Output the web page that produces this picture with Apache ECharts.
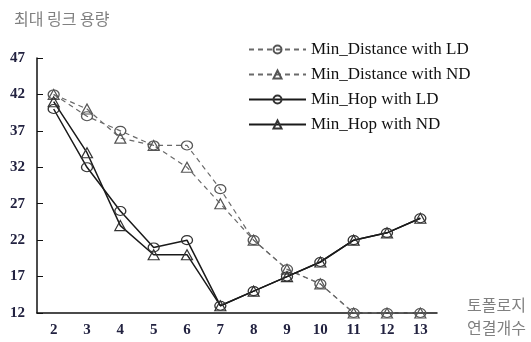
<!DOCTYPE html>
<html>
<head>
<meta charset="utf-8">
<script src="https://cdn.jsdelivr.net/npm/echarts@6/dist/echarts.min.js"></script>
<style>
  html, body { margin: 0; padding: 0; background: #fff; }
  #chart { width: 531px; height: 342px; }
</style>
</head>
<body>
<div id="chart"></div>
<script>
const categories = ["2", "3", "4", "5", "6", "7", "8", "9", "10", "11", "12", "13"];
const minDistanceLD = [42, 39, 37, 35, 35, 29, 22, 18, 16, 12, 12, 12];
const minDistanceND = [42, 40, 36, 35, 32, 27, 22, 18, 16, 12, 12, 12];
const minHopLD = [40, 32, 26, 21, 22, 13, 15, 17, 19, 22, 23, 25];
const minHopND = [41, 34, 24, 20, 20, 13, 15, 17, 19, 22, 23, 25];

const serif = "'Liberation Serif', 'DejaVu Serif', serif";
const cjk = "'Noto Sans CJK KR', sans-serif";

const makeSeries = (name, data, dashed, symbol) => ({
    name: name,
    type: "line",
    data: data,
    symbol: symbol,
    symbolSize: symbol === "circle" ? [11, 9] : [11, 10],
    animation: false,
    z: dashed ? 2 : 3,
    lineStyle: {
        color: dashed ? "#6a6a6a" : "#1a1a1a",
        width: dashed ? 1.2 : 1.5,
        type: dashed ? [5, 4] : "solid",
    },
    itemStyle: {
        color: "rgba(255,255,255,0)",
        borderColor: dashed ? "#555" : "#333",
        borderWidth: 1.2,
    },
});

const chart = echarts.init(document.getElementById("chart"));
chart.setOption({
    backgroundColor: "#fff",
    animation: false,
    grid: { left: 37, right: 94, top: 58, bottom: 29 },
    title: [
        {
            text: "최대 링크 용량",
            left: 9, top: 6,
            textStyle: { fontFamily: cjk, fontSize: 16, fontWeight: "normal", color: "#808080" },
        },
        {
            text: "토폴로지\n연결개수",
            left: 462, top: 288,
            textStyle: { fontFamily: cjk, fontSize: 16, fontWeight: "normal", color: "#808080", lineHeight: 23 },
        },
    ],
    legend: {
        orient: "vertical",
        left: 243, top: 36,
        itemWidth: 57, itemHeight: 10,
        itemGap: 8,
        textStyle: { fontFamily: serif, fontSize: 17, color: "#111" },
        data: ["Min_Distance with LD", "Min_Distance with ND", "Min_Hop with LD", "Min_Hop with ND"],
    },
    xAxis: {
        type: "category",
        data: categories,
        boundaryGap: true,
        axisLine: { lineStyle: { color: "#111", width: 1.5 } },
        axisTick: { inside: true, length: 6, lineStyle: { color: "#111" } },
        axisLabel: { fontFamily: serif, fontSize: 15, fontWeight: "bold", color: "#222240", margin: 10 },
        splitLine: { show: false },
    },
    yAxis: {
        type: "value",
        min: 12, max: 47, interval: 5,
        axisLine: { show: true, lineStyle: { color: "#111", width: 1.5 } },
        axisTick: { show: true, inside: true, length: 6, lineStyle: { color: "#111" } },
        axisLabel: { fontFamily: serif, fontSize: 15, fontWeight: "bold", color: "#222240", margin: 12 },
        splitLine: { show: false },
    },
    series: [
        makeSeries("Min_Distance with LD", minDistanceLD, true, "circle"),
        makeSeries("Min_Distance with ND", minDistanceND, true, "triangle"),
        makeSeries("Min_Hop with LD", minHopLD, false, "circle"),
        makeSeries("Min_Hop with ND", minHopND, false, "triangle"),
    ],
});
</script>
</body>
</html>
